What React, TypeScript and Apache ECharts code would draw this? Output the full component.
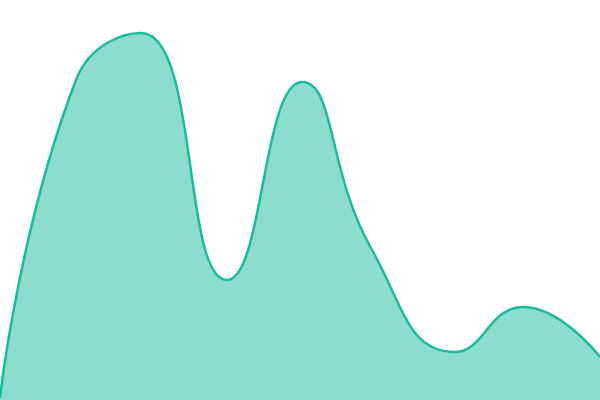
import React, { useEffect, useRef } from 'react';
import * as echarts from 'echarts';
import type { EChartsOption } from 'echarts';

// Sample positions (x) and values (y), both on a 0..600 / 0..400 scale
const xs = [0, 76, 141, 227, 302, 371, 455, 523, 600];
const ys = [2, 320, 367, 120, 318, 152, 48, 93, 43];

const LINE_COLOR = '#1abc9c';

const App: React.FC = () => {
  const chartRef = useRef<HTMLDivElement>(null);

  useEffect(() => {
    if (!chartRef.current) return;
    const chart = echarts.init(chartRef.current, undefined, { renderer: 'svg' });

    const option: EChartsOption = {
      animation: false,
      grid: { left: 0, right: 0, top: 0, bottom: 0 },
      xAxis: { type: 'value', min: 0, max: 600, show: false },
      yAxis: { type: 'value', min: 0, max: 400, show: false },
      series: [
        {
          type: 'line',
          data: xs.map((x, i) => [x, ys[i]]),
          smooth: true,
          symbol: 'none',
          lineStyle: { color: LINE_COLOR, width: 2.5 },
          areaStyle: { color: LINE_COLOR, opacity: 0.5 }
        }
      ]
    };
    chart.setOption(option);

    return () => chart.dispose();
  }, []);

  return (
    <div
      ref={chartRef}
      style={{ position: 'fixed', left: 0, top: 0, width: '600px', height: '400px', background: '#fff' }}
    />
  );
};

export default App;
